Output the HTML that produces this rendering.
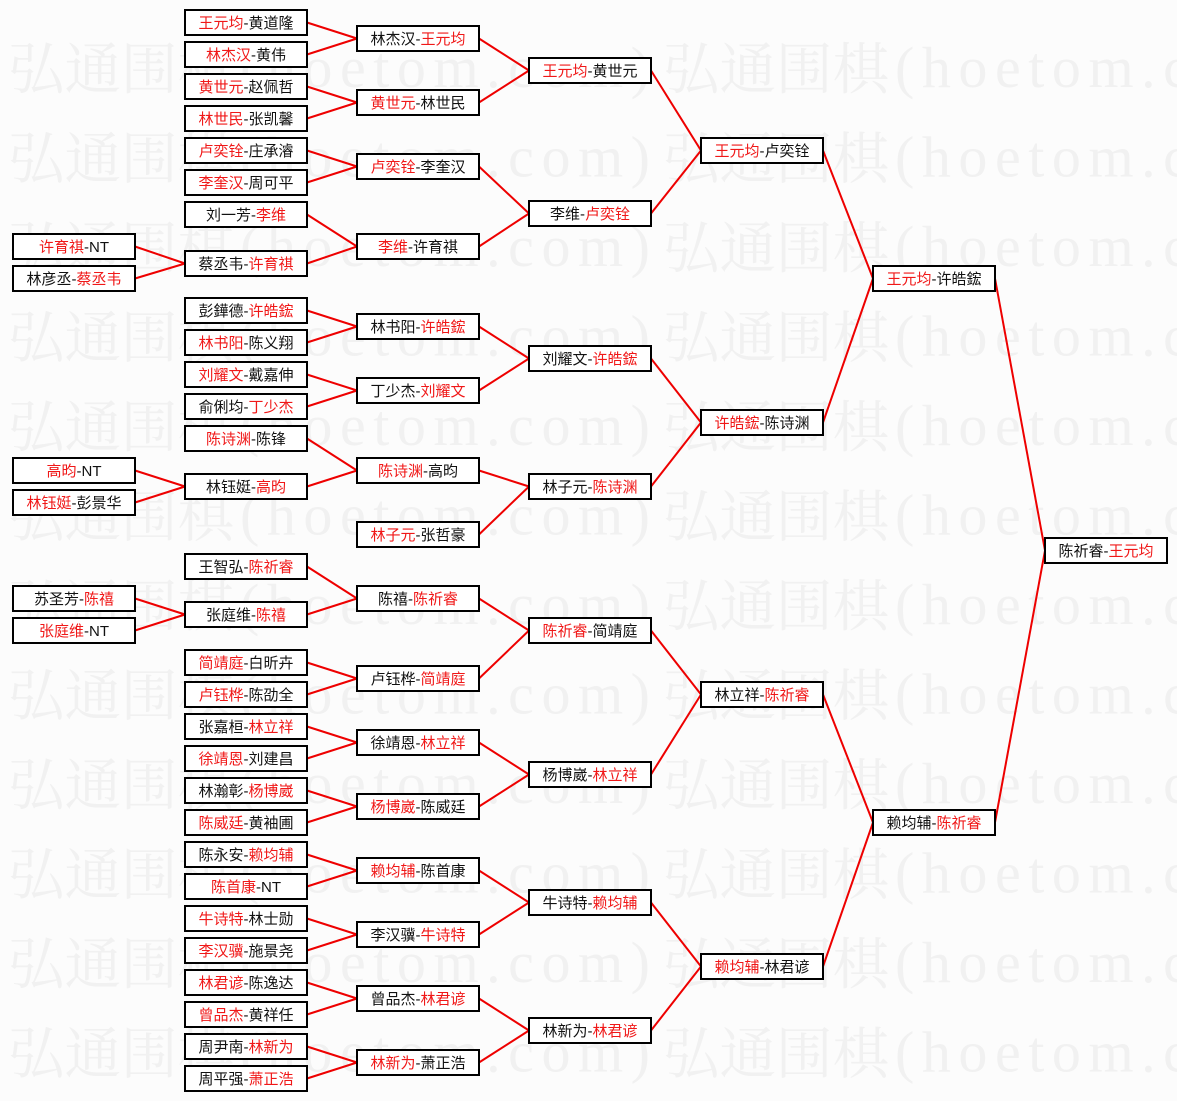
<!DOCTYPE html>
<html><head><meta charset="utf-8">
<style>
html,body{margin:0;padding:0;width:1177px;height:1101px;overflow:hidden;background:#fcfcfc;}
svg{display:block}
.wm{font-family:"Noto Serif CJK SC",serif;font-size:56px;fill:#f1f1f1;}
.wl{font-family:"Liberation Serif",serif;font-size:58px;fill:#f1f1f1;}
.bt{font-family:"Liberation Sans","Noto Sans CJK SC",sans-serif;font-size:15px;fill:#111;}
.r{fill:#f01818}
</style></head>
<body>
<svg id="s" width="1177" height="1101" xmlns="http://www.w3.org/2000/svg">
<g id="wm"></g><g id="ln"></g><g id="bx"></g>
</svg>
<script>
var NS="http://www.w3.org/2000/svg";
var cols=[
[[234,"[许育祺]-NT"],[266,"林彦丞-[蔡丞韦]"],[458,"[高昀]-NT"],[490,"[林钰娗]-彭景华"],[586,"苏圣芳-[陈禧]"],[618,"[张庭维]-NT"]],
[[10,"[王元均]-黄道隆"],[42,"[林杰汉]-黄伟"],[74,"[黄世元]-赵佩哲"],[106,"[林世民]-张凯馨"],[138,"[卢奕铨]-庄承濬"],[170,"[李奎汉]-周可平"],[202,"刘一芳-[李维]"],[251,"蔡丞韦-[许育祺]"],[298,"彭鏵德-[许皓鋐]"],[330,"[林书阳]-陈义翔"],[362,"[刘耀文]-戴嘉伸"],[394,"俞俐均-[丁少杰]"],[426,"[陈诗渊]-陈锋"],[474,"林钰娗-[高昀]"],[554,"王智弘-[陈祈睿]"],[602,"张庭维-[陈禧]"],[650,"[简靖庭]-白昕卉"],[682,"[卢钰桦]-陈劭全"],[714,"张嘉桓-[林立祥]"],[746,"[徐靖恩]-刘建昌"],[778,"林瀚彰-[杨博崴]"],[810,"[陈威廷]-黄袖圃"],[842,"陈永安-[赖均辅]"],[874,"[陈首康]-NT"],[906,"[牛诗特]-林士勋"],[938,"[李汉骥]-施景尧"],[970,"[林君谚]-陈逸达"],[1002,"[曾品杰]-黄祥任"],[1034,"周尹南-[林新为]"],[1066,"周平强-[萧正浩]"]],
[[26,"林杰汉-[王元均]"],[90,"[黄世元]-林世民"],[154,"[卢奕铨]-李奎汉"],[234,"[李维]-许育祺"],[314,"林书阳-[许皓鋐]"],[378,"丁少杰-[刘耀文]"],[458,"[陈诗渊]-高昀"],[522,"[林子元]-张哲豪"],[586,"陈禧-[陈祈睿]"],[666,"卢钰桦-[简靖庭]"],[730,"徐靖恩-[林立祥]"],[794,"[杨博崴]-陈威廷"],[858,"[赖均辅]-陈首康"],[922,"李汉骥-[牛诗特]"],[986,"曾品杰-[林君谚]"],[1050,"[林新为]-萧正浩"]],
[[58,"[王元均]-黄世元"],[201,"李维-[卢奕铨]"],[346,"刘耀文-[许皓鋐]"],[474,"林子元-[陈诗渊]"],[618,"[陈祈睿]-简靖庭"],[762,"杨博崴-[林立祥]"],[890,"牛诗特-[赖均辅]"],[1018,"林新为-[林君谚]"]],
[[138,"[王元均]-卢奕铨"],[410,"[许皓鋐]-陈诗渊"],[682,"林立祥-[陈祈睿]"],[954,"[赖均辅]-林君谚"]],
[[266,"[王元均]-许皓鋐"],[810,"赖均辅-[陈祈睿]"]],
[[538,"陈祈睿-[王元均]"]]
];
var X=[13,185,357,529,701,873,1045],W=122,H=25;
var links=[
[0,0,1,7],[0,1,1,7],[0,2,1,13],[0,3,1,13],[0,4,1,15],[0,5,1,15]
];
var m1=[0,0,1,1,2,2,3,3,4,4,5,5,6,6,8,8,9,9,10,10,11,11,12,12,13,13,14,14,15,15];
m1.forEach(function(p,i){links.push([1,i,2,p]);});
for(var c=2;c<6;c++){for(var i=0;i<cols[c].length;i++)links.push([c,i,c+1,Math.floor(i/2)]);}
function el(t,a,p){var e=document.createElementNS(NS,t);for(var k in a)e.setAttribute(k,a[k]);p.appendChild(e);return e;}
var wm=document.getElementById("wm"),ln=document.getElementById("ln"),bx=document.getElementById("bx");
for(var r=0;r<12;r++){var y=89+r*89.5;[8,663].forEach(function(x){
var a=el("text",{x:x,y:y,"class":"wm",textLength:226,lengthAdjust:"spacingAndGlyphs"},wm);a.textContent="弘通围棋";
var b=el("text",{x:x+232,y:y-2,"class":"wl",textLength:410,lengthAdjust:"spacing"},wm);b.textContent="(hoetom.com)";});}
links.forEach(function(l){var a=cols[l[0]][l[1]],b=cols[l[2]][l[3]];
el("line",{x1:X[l[0]]+W,y1:a[0]+H/2,x2:X[l[2]],y2:b[0]+H/2,stroke:"#e00",
"stroke-width":2},ln);});
cols.forEach(function(col,c){col.forEach(function(it){
el("rect",{x:X[c],y:it[0],width:W,height:H,fill:"#fff",stroke:"#000","stroke-width":2},bx);
var t=el("text",{x:X[c]+W/2,y:it[0]+18,"text-anchor":"middle","class":"bt"},bx);
it[1].split(/(\[[^\]]*\])/).forEach(function(s){if(!s)return;var red=s[0]=="[";
var sp=el("tspan",red?{"class":"r"}:{},t);sp.textContent=red?s.slice(1,-1):s;});
});});
</script>
</body></html>
